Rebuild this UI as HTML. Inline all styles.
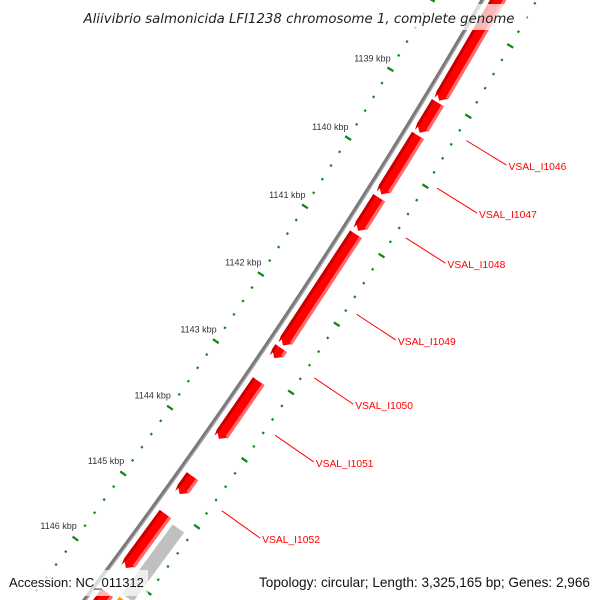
<!DOCTYPE html>
<html><head><meta charset="utf-8">
<style>
html,body{margin:0;padding:0;background:#fff;width:600px;height:600px;overflow:hidden;}
svg{display:block;font-family:"Liberation Sans",sans-serif;}
</style></head>
<body>
<svg id="map" width="600" height="600" viewBox="0 0 600 600" xmlns="http://www.w3.org/2000/svg" style="overflow:hidden">
<g id="ticks"></g>
<g id="backbone"></g>
<g id="genes"></g>
<g id="labels"></g>
<g>
<rect x="72" y="4" width="455" height="26" fill="#fff" fill-opacity="0.72"/>
<text x="299" y="23" text-anchor="middle" font-size="13.3" font-style="italic" fill="#222" style="font-family:'DejaVu Sans',sans-serif">Aliivibrio salmonicida LFI1238 chromosome 1, complete genome</text>
</g>
<g>
<rect x="4" y="570" width="144" height="26" fill="#fff" fill-opacity="0.72"/>
<text x="9" y="587" font-size="13" fill="#111">Accession: NC_011312</text>
<rect x="254" y="570" width="342" height="26" fill="#fff" fill-opacity="0.72"/>
<text x="590" y="587" text-anchor="end" font-size="13.6" fill="#111">Topology: circular; Length: 3,325,165 bp; Genes: 2,966</text>
</g>
</svg>
<script>
// data (kbp)
var geneStarts = [1137.0, 1139.05, 1139.52, 1140.42, 1140.95, 1142.62, 1143.11, 1144.53, 1145.1, 1146.3];
var geneEnds   = [1139.02, 1139.48, 1140.37, 1140.9, 1142.58, 1142.77, 1143.97, 1144.8, 1145.92, 1147.5];
var labelNames = ["", "VSAL_I1046", "VSAL_I1047", "VSAL_I1048", "VSAL_I1049", "VSAL_I1050", "VSAL_I1051", "VSAL_I1052", "", ""];
var otherStarts = [1145.15, 1146.25];
var otherEnds   = [1146.2, 1147.5];
var otherColors = ["#c0c0c0", "#ff9900"];
var tickLabels = [1139, 1140, 1141, 1142, 1143, 1144, 1145, 1146];

var NS = "http://www.w3.org/2000/svg";
var CX = -4694, CY = -3002;
var TH0 = 0.5434, DTH = 0.0136;
function ang(kb){ return TH0 + (kb - 1139) * DTH; }
function pt(kb, r){ var t = ang(kb); return [CX + r*Math.cos(t), CY + r*Math.sin(t)]; }
function mk(tag, attrs, parent){ var e = document.createElementNS(NS, tag); for (var k in attrs) e.setAttribute(k, attrs[k]); parent.appendChild(e); return e; }
function P(a){ return a[0].toFixed(2)+","+a[1].toFixed(2); }

var ticks = document.getElementById('ticks');
[5940, 6031].forEach(function(R){
  for (var i = 5680; i <= 5740; i++) {
    var kb = i/5;
    var major = (i % 5 === 0);
    var a = pt(kb, R - (major ? 3.5 : 1.1)), b = pt(kb, R + (major ? 3.5 : 1.1));
    var l = mk('line', {x1:a[0], y1:a[1], x2:b[0], y2:b[1], stroke:'#118811', 'stroke-width': 2.3}, ticks);
    
    
  }
});
tickLabels.forEach(function(kb){
  var p = pt(kb, 5919);
  var t = mk('text', {x:p[0], y:p[1]+3, 'text-anchor':'middle', 'font-size':9, fill:'#333'}, ticks);
  t.textContent = kb + ' kbp';
  
  
});

var bb = document.getElementById('backbone');
function arcPath(r){ var d=''; for (var kb=1136; kb<=1149; kb+=0.25){ var p=pt(kb,r); d += (d?'L':'M')+P(p); } return d; }
var b1 = mk('path', {d:arcPath(5984), fill:'none', stroke:'#7a7a7a', 'stroke-width':4}, bb);


var b2 = mk('path', {d:arcPath(5985.5), fill:'none', stroke:'#b0b0b0', 'stroke-width':1.2}, bb);



var gg = document.getElementById('genes');
function arrow(s, e, r1, r2, h){
  var eh = Math.max(s, e - h);
  return [pt(s,r2), pt(eh,r2), pt(e,(r1+r2)/2), pt(eh,r1), pt(s,r1)].map(P).join(' ');
}
for (var i = 0; i < geneStarts.length; i++) {
  var s = geneStarts[i], e = geneEnds[i];
  var g = mk('g', {}, gg);
  
  
  mk('polygon', {points: arrow(s, e, 5991, 6005, 0.08), fill:'#ff0000'}, g);
  mk('polygon', {points: arrow(s, e, 5991, 5994, 0.08), fill:'#c80000'}, g);
  mk('polygon', {points: [pt(s,6002),pt(e-0.08,6002),pt(e-0.06,6005),pt(s,6005)].map(P).join(' '), fill:'#ff6a6a'}, g);
}
for (var j = 0; j < otherStarts.length; j++) {
  var o = mk('polygon', {points: [pt(otherStarts[j],6010),pt(otherEnds[j],6010),pt(otherEnds[j],6024),pt(otherStarts[j],6024)].map(P).join(' '), fill:otherColors[j]}, gg);
  
  
}

var lg = document.getElementById('labels');
for (var k = 0; k < labelNames.length; k++) {
  if (!labelNames[k]) continue;
  var mid = (geneStarts[k] + geneEnds[k]) / 2;
  var a = pt(mid, 6042), b = pt(mid, 6089);
  var ln = mk('line', {x1:a[0], y1:a[1], x2:b[0], y2:b[1], stroke:'#ff0000', 'stroke-width':1}, lg);
  
  
  var tx = mk('text', {x:b[0]+2, y:b[1]+5, 'font-size':10.3, fill:'#ff0000'}, lg);
  tx.textContent = labelNames[k];
  
  
}
</script>
</body></html>
